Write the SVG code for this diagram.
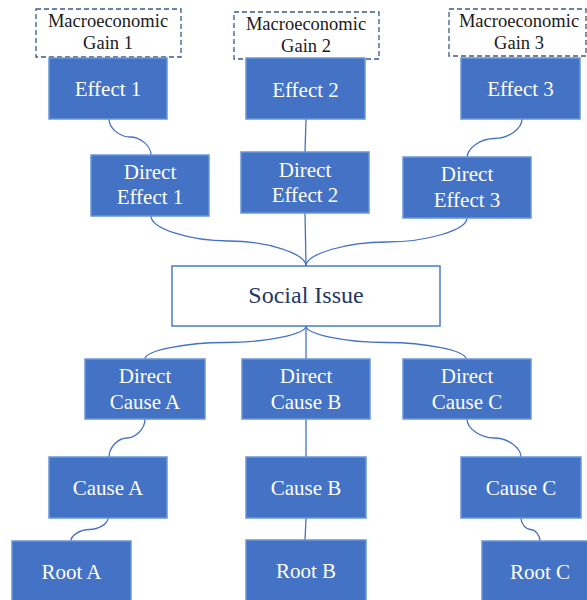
<svg xmlns="http://www.w3.org/2000/svg" width="587" height="600" viewBox="0 0 587 600">
  <style>
    .box { fill: #4472C4; stroke: #6A96D8; stroke-width: 1.5; }
    .issue { fill: #FFFFFF; stroke: #4A7CC9; stroke-width: 1.5; }
    .gain { fill: #FFFFFF; stroke: #3B5A8C; stroke-width: 1.3; stroke-dasharray: 5 3; }
    text { font-family: 'Liberation Serif', 'DejaVu Serif', serif; }
    .lbl { font-size: 21px; fill: #FFFFFF; text-anchor: middle; }
    .gtxt { font-size: 18.5px; fill: #1A1A1A; text-anchor: middle; }
    .itxt { font-size: 24px; fill: #1F3864; text-anchor: middle; }
    .conn { fill: none; stroke: #4472C4; stroke-width: 1.3; }
  </style>
  <rect width="587" height="600" fill="#FFFFFF"/>

  <!-- connectors -->
  <g id="connectors">
    <path class="conn" d="M109,119 C109,128 119.5,137 130,137 C140.5,137 151,146 151,155"/>
    <path class="conn" d="M306,119 L305,152"/>
    <path class="conn" d="M522,119 C522,128.75 508.25,138.5 494.5,138.5 C480.75,138.5 467,148.25 467,158"/>
    <path class="conn" d="M151,216 C151,228.5 189.75,241 228.5,241 C267.25,241 306,253.5 306,266"/>
    <path class="conn" d="M305,213 L306,266"/>
    <path class="conn" d="M467,218 C467,230 426.75,242 386.5,242 C346.25,242 306,254 306,266"/>
    <path class="conn" d="M306,326 C306,334.25 265.75,342.5 225.5,342.5 C185.25,342.5 145,350.75 145,359"/>
    <path class="conn" d="M306,326 L306,359"/>
    <path class="conn" d="M306,326 C306,334.25 346,342.5 386,342.5 C426,342.5 466,350.75 466,359"/>
    <path class="conn" d="M145,419 C145,428.5 136,438 127,438 C118,438 109,447.5 109,457"/>
    <path class="conn" d="M306,419 L306,457"/>
    <path class="conn" d="M467,419 C467,428.5 480.5,438 494,438 C507.5,438 521,447.5 521,457"/>
    <path class="conn" d="M108,518 C108,523.75 98.75,529.5 89.5,529.5 C80.25,529.5 71,535.25 71,541"/>
    <path class="conn" d="M306,518 L305,540"/>
    <path class="conn" d="M521,518 C521,523.75 525.75,529.5 530.5,529.5 C535.25,529.5 540,535.25 540,541"/>
  </g>

  <!-- macroeconomic gains -->
  <g id="gain1">
    <rect class="gain" x="36" y="9" width="145" height="48"/>
    <text class="gtxt" x="108" y="27">Macroeconomic</text>
    <text class="gtxt" x="108" y="49">Gain 1</text>
  </g>
  <g id="gain2">
    <rect class="gain" x="234" y="12" width="145" height="47"/>
    <text class="gtxt" x="306" y="30">Macroeconomic</text>
    <text class="gtxt" x="306" y="52">Gain 2</text>
  </g>
  <g id="gain3">
    <rect class="gain" x="449" y="9" width="137" height="47"/>
    <text class="gtxt" x="519" y="27">Macroeconomic</text>
    <text class="gtxt" x="519" y="49">Gain 3</text>
  </g>

  <!-- effects -->
  <g id="effect1">
    <rect class="box" x="49" y="58" width="118" height="61"/>
    <text class="lbl" x="108" y="96">Effect 1</text>
  </g>
  <g id="effect2">
    <rect class="box" x="246" y="58" width="119" height="61"/>
    <text class="lbl" x="305.5" y="97">Effect 2</text>
  </g>
  <g id="effect3">
    <rect class="box" x="461" y="58" width="119" height="61"/>
    <text class="lbl" x="520.5" y="96">Effect 3</text>
  </g>

  <!-- direct effects -->
  <g id="directEffect1">
    <rect class="box" x="91" y="155" width="118" height="61"/>
    <text class="lbl" x="150" y="179">Direct</text>
    <text class="lbl" x="150" y="204">Effect 1</text>
  </g>
  <g id="directEffect2">
    <rect class="box" x="241" y="152" width="128" height="61"/>
    <text class="lbl" x="305" y="177">Direct</text>
    <text class="lbl" x="305" y="202">Effect 2</text>
  </g>
  <g id="directEffect3">
    <rect class="box" x="403" y="157" width="128" height="61"/>
    <text class="lbl" x="467" y="181">Direct</text>
    <text class="lbl" x="467" y="207">Effect 3</text>
  </g>

  <!-- social issue -->
  <g id="socialIssue">
    <rect class="issue" x="172" y="266" width="268" height="60"/>
    <text class="itxt" x="306" y="303">Social Issue</text>
  </g>

  <!-- direct causes -->
  <g id="directCauseA">
    <rect class="box" x="85" y="359" width="120" height="60"/>
    <text class="lbl" x="145" y="383">Direct</text>
    <text class="lbl" x="145" y="409">Cause A</text>
  </g>
  <g id="directCauseB">
    <rect class="box" x="242" y="359" width="128" height="60"/>
    <text class="lbl" x="306" y="383">Direct</text>
    <text class="lbl" x="306" y="409">Cause B</text>
  </g>
  <g id="directCauseC">
    <rect class="box" x="403" y="359" width="128" height="60"/>
    <text class="lbl" x="467" y="383">Direct</text>
    <text class="lbl" x="467" y="409">Cause C</text>
  </g>

  <!-- causes -->
  <g id="causeA">
    <rect class="box" x="49" y="457" width="118" height="61"/>
    <text class="lbl" x="108" y="495">Cause A</text>
  </g>
  <g id="causeB">
    <rect class="box" x="246" y="457" width="120" height="61"/>
    <text class="lbl" x="306" y="495">Cause B</text>
  </g>
  <g id="causeC">
    <rect class="box" x="461" y="457" width="120" height="61"/>
    <text class="lbl" x="521" y="495">Cause C</text>
  </g>

  <!-- roots -->
  <g id="rootA">
    <rect class="box" x="12" y="541" width="119" height="62"/>
    <text class="lbl" x="71.5" y="579">Root A</text>
  </g>
  <g id="rootB">
    <rect class="box" x="246" y="540" width="120" height="63"/>
    <text class="lbl" x="306" y="578">Root B</text>
  </g>
  <g id="rootC">
    <rect class="box" x="482" y="541" width="110" height="62"/>
    <text class="lbl" x="540" y="579">Root C</text>
  </g>
</svg>
